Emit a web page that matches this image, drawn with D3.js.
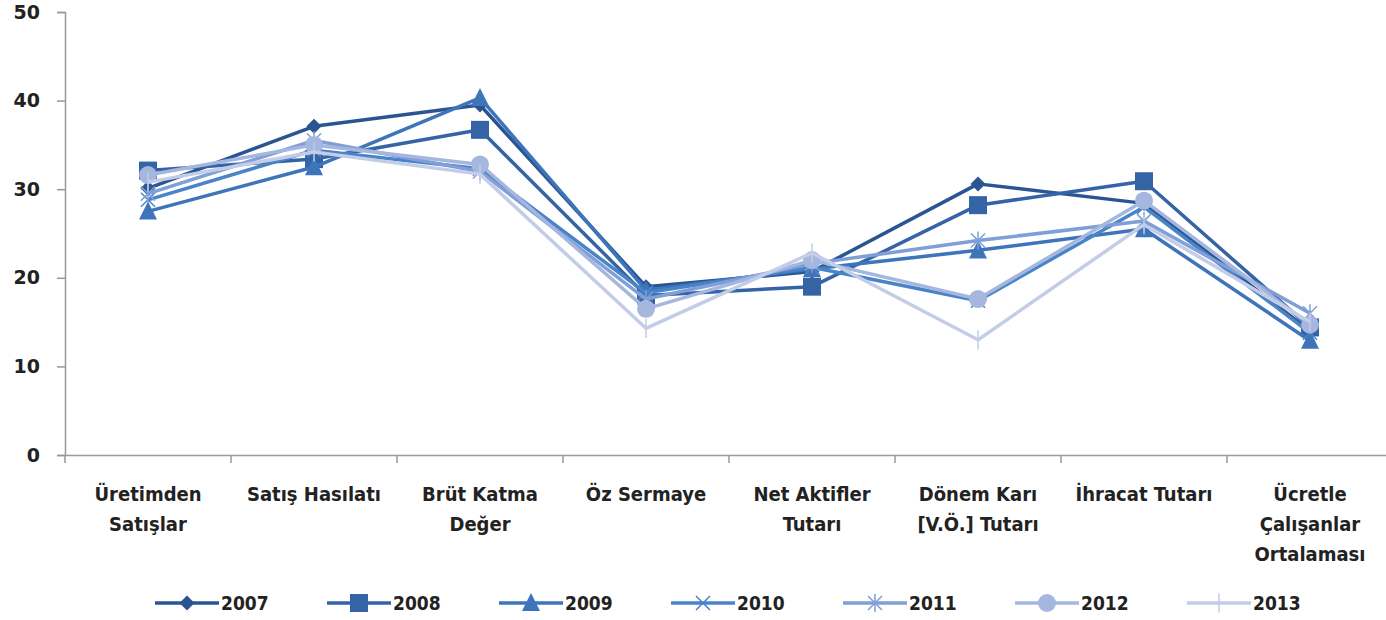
<!DOCTYPE html>
<html>
<head>
<meta charset="utf-8">
<script src="https://cdn.jsdelivr.net/npm/d3@7"></script>
<style>
  body { margin: 0; background: #fff; }
  text { font-family: "DejaVu Sans Condensed", "Liberation Sans Narrow", sans-serif; font-weight: bold; fill: #222; }
</style>
</head>
<body>
<script>
var categories = [
  ["Üretimden", "Satışlar"],
  ["Satış Hasılatı"],
  ["Brüt Katma", "Değer"],
  ["Öz Sermaye"],
  ["Net Aktifler", "Tutarı"],
  ["Dönem Karı", "[V.Ö.] Tutarı"],
  ["İhracat Tutarı"],
  ["Ücretle", "Çalışanlar", "Ortalaması"]
];
var years = ["2007", "2008", "2009", "2010", "2011", "2012", "2013"];
var v2007 = [30.1, 37.1, 39.5, 19.0, 20.7, 30.6, 28.4, 14.0];
var v2008 = [32.1, 33.4, 36.7, 18.0, 19.0, 28.2, 30.9, 14.4];
var v2009 = [27.5, 32.5, 40.3, 18.6, 21.0, 23.1, 25.5, 12.9];
var v2010 = [28.8, 34.4, 32.3, 18.3, 21.2, 17.4, 28.0, 13.8];
var v2011 = [29.5, 35.5, 32.0, 17.6, 21.6, 24.2, 26.4, 16.0];
var v2012 = [31.6, 35.0, 32.8, 16.5, 22.0, 17.6, 28.7, 14.7];
var v2013 = [30.8, 34.2, 31.7, 14.3, 22.8, 13.0, 26.0, 15.0];
var yTicks = [0, 10, 20, 30, 40, 50];

var series = [v2007, v2008, v2009, v2010, v2011, v2012, v2013];
var colors = ["#2a5592", "#3464a6", "#3d74ba", "#4a84c8", "#7f9fd6", "#a5b6df", "#c3cde7"];
var markers = ["diamond", "square", "triangle", "times", "asterisk", "circle", "plus"];

var W = 1386, H = 620;
var x0 = 65, x1 = 1393;
var svg = d3.select("body").append("svg").attr("width", W).attr("height", H);

var x = d3.scaleBand().domain(d3.range(categories.length)).range([x0, x1]);
var y = d3.scaleLinear().domain([0, 50]).range([455, 12]);

// axes
var gy = svg.append("g").attr("transform", "translate(" + x0 + ",0)")
  .call(d3.axisLeft(y).tickValues(yTicks).tickSize(8).tickPadding(17));
gy.select(".domain").attr("stroke", "#999").attr("stroke-width", 1.5);
gy.selectAll(".tick line").attr("stroke", "#999").attr("stroke-width", 1.5);
gy.selectAll(".tick text").style("font-family", "DejaVu Sans, sans-serif").style("font-size", "19px").style("font-weight", "bold").attr("fill", "#222");

var gx = svg.append("g").attr("transform", "translate(0,455)")
  .call(d3.axisBottom(x).tickSize(0).tickFormat(""));
gx.select(".domain").attr("stroke", "#999").attr("stroke-width", 1.5);
svg.append("g").selectAll("line").data(d3.range(categories.length + 1)).enter().append("line")
  .attr("x1", function(d){ return x0 + d * x.bandwidth(); })
  .attr("x2", function(d){ return x0 + d * x.bandwidth(); })
  .attr("y1", 455).attr("y2", 463)
  .attr("stroke", "#999").attr("stroke-width", 1.5);

svg.append("g").selectAll("text").data(categories).enter().append("text")
  .attr("text-anchor", "middle")
  .style("font-size", "20px")
  .each(function(d, i){
    var t = d3.select(this);
    d.forEach(function(line, j){
      t.append("tspan").attr("x", x(i) + x.bandwidth() / 2).attr("y", 501 + j * 30).text(line);
    });
  });

function markerPath(type, s) {
  var h = s / 2;
  if (type === "diamond") return "M0," + (-h) + "L" + h + ",0L0," + h + "L" + (-h) + ",0Z";
  if (type === "square") return "M" + (-h) + "," + (-h) + "h" + s + "v" + s + "h" + (-s) + "Z";
  if (type === "triangle") return "M0," + (-h * 1.1) + "L" + h + "," + h * 0.9 + "L" + (-h) + "," + h * 0.9 + "Z";
  if (type === "times") return "M" + (-h) + "," + (-h) + "L" + h + "," + h + "M" + h + "," + (-h) + "L" + (-h) + "," + h;
  if (type === "asterisk") return "M" + (-h) + "," + (-h) + "L" + h + "," + h + "M" + h + "," + (-h) + "L" + (-h) + "," + h + "M0," + (-h * 1.3) + "V" + h * 1.3;
  if (type === "plus") return "M0," + (-h * 1.2) + "V" + h * 1.2;
  return null;
}
function drawMarker(g, type, cx, cy, color) {
  if (type === "circle") {
    g.append("circle").attr("cx", cx).attr("cy", cy).attr("r", 9).attr("fill", color);
    return;
  }
  var size = { diamond: 15, square: 18, triangle: 18, times: 14, asterisk: 14, plus: 16 }[type];
  var stroke = (type === "times" || type === "asterisk" || type === "plus");
  g.append("path").attr("d", markerPath(type, size))
    .attr("transform", "translate(" + cx + "," + cy + ")")
    .attr("fill", stroke ? "none" : color)
    .attr("stroke", color)
    .attr("stroke-width", stroke ? 1.5 : 0);
}

var line = d3.line()
  .x(function(d, i){ return x(i) + x.bandwidth() / 2; })
  .y(function(d){ return y(d); });

// series in order, later years on top (as in the spreadsheet chart)
series.forEach(function(vals, k){
  var g = svg.append("g");
  g.append("path").datum(vals).attr("d", line)
    .attr("fill", "none").attr("stroke", colors[k]).attr("stroke-width", 3.5)
    .attr("stroke-linejoin", "round");
  vals.forEach(function(v, i){
    drawMarker(g, markers[k], x(i) + x.bandwidth() / 2, y(v), colors[k]);
  });
});

// legend
var leg = svg.append("g");
years.forEach(function(yr, k){
  var lx = 155 + k * 172, ly = 603;
  var lg = leg.append("g");
  lg.append("line").attr("x1", lx).attr("x2", lx + 64).attr("y1", ly).attr("y2", ly)
    .attr("stroke", colors[k]).attr("stroke-width", 3.5);
  drawMarker(lg, markers[k], lx + 32, ly, colors[k]);
  lg.append("text").attr("x", lx + 66).attr("y", ly + 7).style("font-size", "19px").text(yr);
});
</script>
</body>
</html>
